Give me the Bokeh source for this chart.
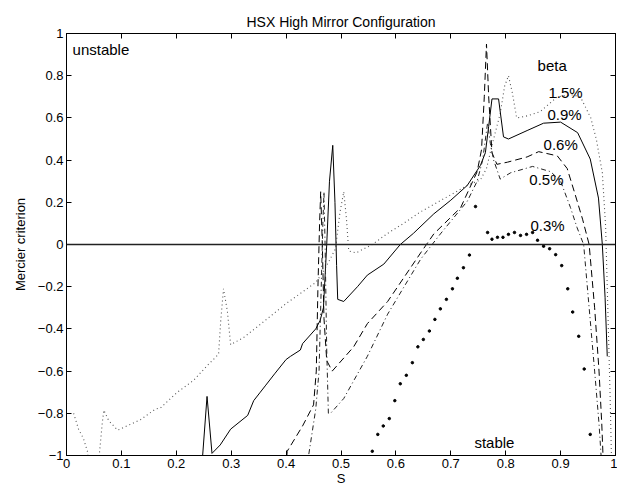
from bokeh.plotting import figure
from bokeh.models import LinearAxis, FixedTicker, Span, Range1d, CustomJSTickFormatter
from bokeh.core.properties import value
from bokeh.embed import file_html
from bokeh.resources import INLINE

FONT = "Liberation Sans"
TITLE = "HSX High Mirror Configuration"
X_LABEL = "S"
Y_LABEL = "Mercier criterion"

x_ticks = [0, 0.1, 0.2, 0.3, 0.4, 0.5, 0.6, 0.7, 0.8, 0.9, 1]
x_tick_labels = ["0", "0.1", "0.2", "0.3", "0.4", "0.5", "0.6", "0.7", "0.8", "0.9", "1"]
y_ticks = [-1, -0.8, -0.6, -0.4, -0.2, 0, 0.2, 0.4, 0.6, 0.8, 1]
y_tick_labels = ["\u22121", "\u22120.8", "\u22120.6", "\u22120.4", "\u22120.2", "0",
                 "0.2", "0.4", "0.6", "0.8", "1"]

# beta = 1.5 % (dotted)
b15_s = [0.013, 0.022, 0.031, 0.038, 0.045, 0.055, 0.06, 0.065, 0.068, 0.077, 0.093, 0.11,
         0.135, 0.162, 0.171, 0.202, 0.231, 0.256, 0.277, 0.281, 0.286, 0.293, 0.299, 0.323,
         0.35, 0.40, 0.454, 0.47, 0.49, 0.498, 0.505, 0.51, 0.514, 0.527, 0.557, 0.585,
         0.614, 0.645, 0.669, 0.73, 0.754, 0.765, 0.775, 0.79, 0.798, 0.805, 0.812, 0.82,
         0.84, 0.863, 0.894, 0.92, 0.936, 0.955, 0.965, 0.976, 0.982, 0.986, 0.99, 0.993]
b15_m = [-0.80, -0.876, -0.92, -0.98, -1.1, -1.1, -0.99, -0.85, -0.785, -0.835, -0.88, -0.86,
         -0.83, -0.78, -0.775, -0.70, -0.645, -0.575, -0.52, -0.36, -0.21, -0.315, -0.475, -0.44,
         -0.385, -0.28, -0.18, -0.12, -0.02, 0.15, 0.25, 0.12, -0.03, -0.04, 0.0, 0.053,
         0.10, 0.155, 0.19, 0.28, 0.306, 0.36, 0.47, 0.62, 0.75, 0.80, 0.72, 0.60,
         0.61, 0.63, 0.70, 0.71, 0.70, 0.60, 0.50, 0.34, 0.085, -0.3, -0.7, -1.05]

# beta = 0.9 % (solid)
b09_s = [0.245, 0.248, 0.256, 0.265, 0.28, 0.299, 0.33, 0.341, 0.353, 0.362, 0.38, 0.40,
         0.408, 0.426, 0.43, 0.454, 0.462, 0.468, 0.474, 0.479, 0.485, 0.489, 0.492, 0.494,
         0.505, 0.53, 0.548, 0.578, 0.608, 0.632, 0.669, 0.70, 0.73, 0.754, 0.763, 0.769,
         0.775, 0.787, 0.796, 0.805, 0.839, 0.869, 0.90, 0.931, 0.954, 0.969, 0.976, 0.981,
         0.985]
b09_m = [-1.05, -1.0, -0.72, -0.99, -0.95, -0.875, -0.81, -0.74, -0.70, -0.67, -0.61, -0.545,
         -0.53, -0.50, -0.47, -0.40, -0.36, -0.30, 0.0, 0.3, 0.47, 0.2, -0.1, -0.26,
         -0.27, -0.2, -0.145, -0.093, 0.0, 0.053, 0.145, 0.21, 0.28, 0.375, 0.435, 0.56,
         0.69, 0.69, 0.51, 0.50, 0.54, 0.575, 0.58, 0.53, 0.405, 0.22, 0.0, -0.25,
         -0.53]

# beta = 0.6 % (dashed)
b06_s = [0.40, 0.402, 0.43, 0.45, 0.455, 0.458, 0.461, 0.463, 0.466, 0.469, 0.474, 0.484,
         0.523, 0.548, 0.585, 0.645, 0.669, 0.718, 0.748, 0.756, 0.761, 0.765, 0.769, 0.775,
         0.784, 0.803, 0.839, 0.86, 0.894, 0.912, 0.925, 0.94, 0.952, 0.962, 0.97, 0.975,
         0.978]
b06_m = [-1.05, -0.98, -0.86, -0.76, -0.6, -0.2, 0.1, 0.25, 0.0, -0.35, -0.55, -0.60,
         -0.485, -0.375, -0.27, -0.04, 0.05, 0.175, 0.345, 0.45, 0.7, 0.95, 0.7, 0.435,
         0.38, 0.39, 0.415, 0.44, 0.42, 0.36, 0.25, 0.12, 0.0, -0.3, -0.6, -0.85,
         -1.05]

# beta = 0.5 % (dash-dot)
b05_s = [0.44, 0.441, 0.454, 0.46, 0.464, 0.467, 0.469, 0.471, 0.474, 0.477, 0.481, 0.505,
         0.548, 0.585, 0.608, 0.645, 0.681, 0.73, 0.748, 0.758, 0.767, 0.772, 0.778, 0.79,
         0.809, 0.849, 0.882, 0.90, 0.918, 0.93, 0.942, 0.952, 0.962, 0.97, 0.975]
b05_m = [-1.05, -1.0, -0.78, -0.6, -0.2, 0.1, 0.25, 0.0, -0.5, -0.80, -0.80, -0.73,
         -0.53, -0.33, -0.23, -0.07, 0.05, 0.205, 0.30, 0.40, 0.577, 0.48, 0.40, 0.31,
         0.34, 0.37, 0.345, 0.30, 0.175, 0.08, 0.0, -0.3, -0.6, -0.85, -1.05]

# beta = 0.3 % (point markers)
b03_s = [0.557, 0.567, 0.577, 0.588, 0.598, 0.608, 0.619, 0.63, 0.64, 0.65, 0.661, 0.671,
         0.681, 0.692, 0.703, 0.712, 0.723, 0.734, 0.745, 0.767, 0.775, 0.785, 0.795, 0.805,
         0.816, 0.827, 0.838, 0.849, 0.858, 0.869, 0.88, 0.891, 0.902, 0.913, 0.922, 0.933,
         0.943, 0.954]
b03_m = [-0.98, -0.90, -0.86, -0.825, -0.74, -0.66, -0.62, -0.56, -0.485, -0.45, -0.41, -0.355,
         -0.305, -0.26, -0.21, -0.16, -0.11, -0.05, 0.18, 0.057, 0.025, 0.034, 0.034, 0.048,
         0.057, 0.043, 0.048, 0.057, 0.02, -0.008, -0.02, -0.048, -0.10, -0.21, -0.32, -0.435,
         -0.59, -0.90]

beta_labels = ["1.5%", "0.9%", "0.6%", "0.5%", "0.3%"]

p = figure(width=617, height=488, output_backend="svg", toolbar_location=None,
           x_range=Range1d(0, 1), y_range=Range1d(-1, 1),
           min_border_left=66, min_border_right=2, min_border_top=33, min_border_bottom=33,
           background_fill_color="white", border_fill_color="white")
p.grid.visible = False
p.outline_line_color = "black"
p.outline_line_width = 1

p.title.text = TITLE
p.title.text_font = FONT
p.title.text_font_size = "14px"
p.title.text_font_style = "normal"
p.title.text_color = "black"
p.title.align = "center"
p.title.standoff = 7


def style_axis(ax, ticks, labels, show_labels=True):
    ax.ticker = FixedTicker(ticks=ticks)
    ax.major_tick_in = 5
    ax.major_tick_out = 0
    ax.minor_tick_in = 0
    ax.minor_tick_out = 0
    ax.axis_line_color = "black"
    ax.major_tick_line_color = "black"
    ax.major_label_text_font = FONT
    ax.major_label_text_color = "black"
    if show_labels:
        ax.major_label_overrides = {t: l for t, l in zip(ticks, labels)}
        ax.major_label_text_font_size = "13px"
    else:
        ax.formatter = CustomJSTickFormatter(code="return ''")
        ax.major_label_text_font_size = "1px"
        ax.major_label_standoff = 0


style_axis(p.xaxis[0], x_ticks, x_tick_labels)
p.xaxis[0].major_label_standoff = 3
p.xaxis[0].axis_label = X_LABEL
p.xaxis[0].axis_label_text_font = FONT
p.xaxis[0].axis_label_text_font_size = "13px"
p.xaxis[0].axis_label_text_font_style = "normal"
p.xaxis[0].axis_label_text_color = "black"
p.xaxis[0].axis_label_standoff = 0

style_axis(p.yaxis[0], y_ticks, y_tick_labels)
p.yaxis[0].major_label_standoff = 3
p.yaxis[0].axis_label = Y_LABEL
p.yaxis[0].axis_label_text_font = FONT
p.yaxis[0].axis_label_text_font_size = "13px"
p.yaxis[0].axis_label_text_font_style = "normal"
p.yaxis[0].axis_label_text_color = "black"
p.yaxis[0].axis_label_standoff = 7

ax_r = LinearAxis()
style_axis(ax_r, y_ticks, y_tick_labels, show_labels=False)
p.add_layout(ax_r, "right")
ax_t = LinearAxis()
style_axis(ax_t, x_ticks, x_tick_labels, show_labels=False)
p.add_layout(ax_t, "above")

p.add_layout(Span(location=0, dimension="width", line_color="#222222", line_width=1.4))

p.line(b15_s, b15_m, line_color="#555555", line_width=1.1, line_dash="1 3")
p.line(b09_s, b09_m, line_color="black", line_width=1)
p.line(b06_s, b06_m, line_color="black", line_width=1, line_dash="7 4")
p.line(b05_s, b05_m, line_color="#222222", line_width=1, line_dash="5 3 1 3")
p.scatter(b03_s, b03_m, size=2.5, color="black", marker="circle")

ann_x = [0.011, 0.743, 0.858, 0.878, 0.876, 0.869, 0.843, 0.845]
ann_y = [0.926, -0.94, 0.85, 0.72, 0.614, 0.476, 0.306, 0.09]
ann_t = ["unstable", "stable", "beta"] + beta_labels
p.text(x=ann_x, y=ann_y, text=ann_t, text_font=value(FONT), text_font_size="15px",
       text_baseline="middle", text_align="left", text_color="black")

open("out.html", "w").write(file_html(p, INLINE))
